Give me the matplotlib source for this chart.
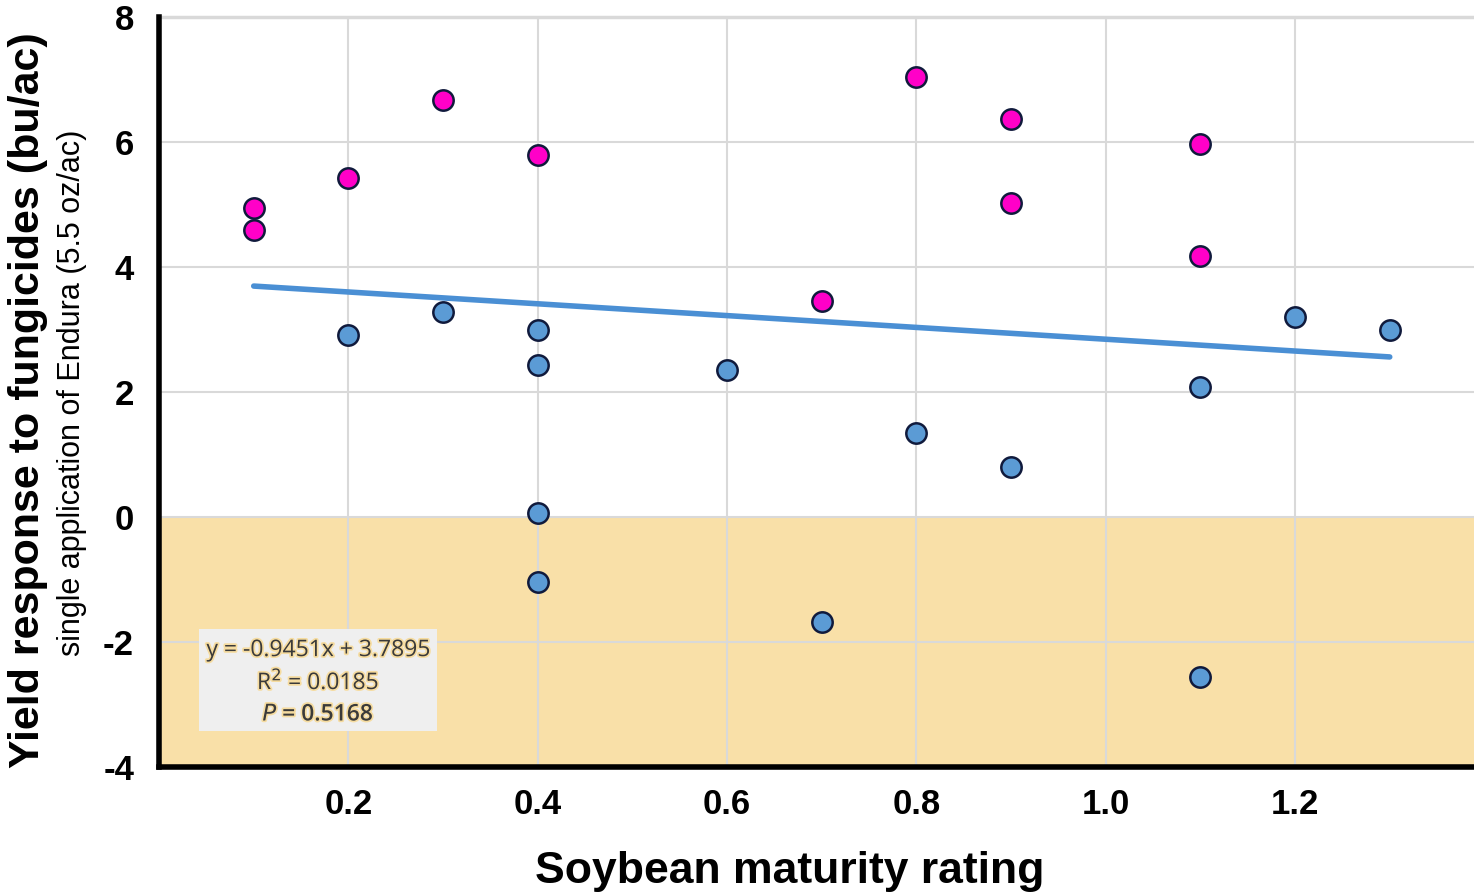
import matplotlib.pyplot as plt
import matplotlib.patheffects as pe
from matplotlib.patches import Rectangle

# ------------------------------------------------- Data -------------------------------------------------

# positive responders (magenta)
pos_x = [0.1, 0.1, 0.2, 0.3, 0.4, 0.7, 0.8, 0.9, 0.9, 1.1, 1.1]
pos_y = [4.94, 4.59, 5.42, 6.67, 5.79, 3.46, 7.04, 6.37, 5.02, 5.97, 4.18]

# other responses (blue)
oth_x = [0.2, 0.3, 0.4, 0.4, 0.4, 0.4, 0.6, 0.7, 0.8, 0.9, 1.1, 1.1, 1.2, 1.3]
oth_y = [2.91, 3.28, 2.99, 2.43, 0.06, -1.04, 2.35, -1.68, 1.34, 0.80, 2.08, -2.56, 3.20, 2.99]

slope = -0.9451
intercept = 3.7895
fit_x = [0.1, 1.3]

x_ticks = [0.2, 0.4, 0.6, 0.8, 1.0, 1.2]
y_ticks = [-4, -2, 0, 2, 4, 6, 8]

# ------------------------------------------------- Styling -------------------------------------------------

MAGENTA = "#ff00c8"
BLUE = "#5b9bd5"
EDGE = "#101a3c"
FILL = "#f9e0a8"
GRID = "#d9d9d9"

plt.rcParams["font.family"] = ["Liberation Sans", "DejaVu Sans"]

fig = plt.figure(figsize=(14.74, 8.96), dpi=100)
ax = fig.add_axes([0.1079, 0.144, 0.8921, 0.837])

ax.set_xlim(0, 1.389)
ax.set_ylim(-4, 8)

# negative response zone
ax.axhspan(-4, 0, color=FILL, zorder=0)

ax.set_xticks(x_ticks)
ax.set_yticks(y_ticks)
ax.set_xticklabels([f"{t:.1f}" for t in x_ticks], fontsize=25, fontweight="heavy")
ax.set_yticklabels([str(t) for t in y_ticks], fontsize=25, fontweight="heavy")
ax.tick_params(axis="y", length=0, pad=18)
ax.tick_params(axis="x", length=0, pad=15)

ax.grid(True, color=GRID, linewidth=1.5, zorder=1)
ax.set_axisbelow(True)

for side in ["top", "right"]:
    ax.spines[side].set_visible(False)
for side in ["left", "bottom"]:
    ax.spines[side].set_linewidth(4)
    ax.spines[side].set_color("black")

# top gridline at 8 drawn as the frame top
ax.axhline(8, color=GRID, linewidth=2.5, zorder=1, clip_on=False)

fit_y = [slope * x + intercept for x in fit_x]
ax.plot(fit_x, fit_y, color="#4a8fd4", linewidth=4, solid_capstyle="round", zorder=3)

ax.scatter(pos_x, pos_y, s=215, color=MAGENTA, edgecolors=EDGE, linewidths=1.8, zorder=4)
ax.scatter(oth_x, oth_y, s=215, color=BLUE, edgecolors=EDGE, linewidths=1.8, zorder=4)

# equation box
ax.add_patch(Rectangle((0.042, -3.43), 0.252, 1.63, facecolor="#efefef",
                       edgecolor="none", zorder=2))
glow = [pe.withStroke(linewidth=2.5, foreground="#f6dca0")]
eq_kw = dict(ha="center", va="center", fontsize=16.5, color="#3a3a3a", zorder=5,
             family=["Open Sans", "DejaVu Sans"], path_effects=glow)
ax.text(0.168, -2.13, f"y = {slope}x + {intercept}", **eq_kw)
ax.text(0.168, -2.65, "R$^2$ = 0.0185", **eq_kw)
ax.text(0.168, -3.16, r"$\mathbf{\mathit{P}}$ = 0.5168", fontweight="semibold", **eq_kw)

fig.text(0.536, 0.027, "Soybean maturity rating", ha="center", va="center",
         fontsize=32, fontweight="bold")
fig.text(0.019, 0.553, "Yield response to fungicides (bu/ac)", rotation=90,
         ha="center", va="center", fontsize=31, fontweight="bold")
fig.text(0.049, 0.562, "single application of Endura (5.5 oz/ac)", rotation=90,
         ha="center", va="center", fontsize=22)

fig.savefig("out.png", dpi=100)
